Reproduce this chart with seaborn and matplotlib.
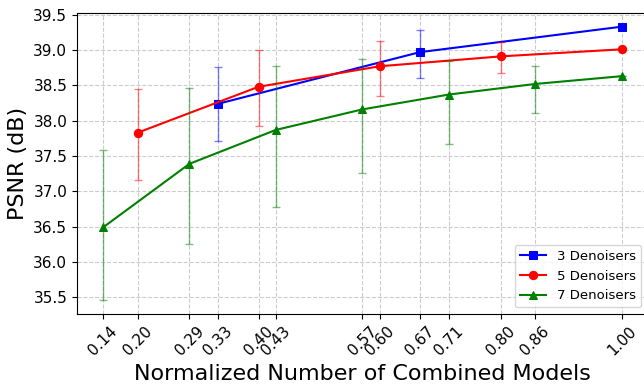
import matplotlib
matplotlib.use("Agg")
import numpy as np
import pandas as pd
import matplotlib.pyplot as plt
import seaborn as sns

# values (error bars are not symmetric)
x3 = [1 / 3, 2 / 3, 1.0]
psnr3 = [38.24, 38.97, 39.33]
lo3 = [0.53, 0.36, 0.0]
hi3 = [0.52, 0.32, 0.0]

x5 = [0.2, 0.4, 0.6, 0.8, 1.0]
psnr5 = [37.83, 38.48, 38.77, 38.91, 39.01]
lo5 = [0.67, 0.55, 0.42, 0.24, 0.0]
hi5 = [0.62, 0.52, 0.36, 0.20, 0.0]

x7 = [1 / 7, 2 / 7, 3 / 7, 4 / 7, 5 / 7, 6 / 7, 1.0]
psnr7 = [36.49, 37.39, 37.87, 38.16, 38.37, 38.52, 38.63]
lo7 = [1.03, 1.14, 1.09, 0.90, 0.70, 0.41, 0.0]
hi7 = [1.10, 1.07, 0.91, 0.71, 0.48, 0.26, 0.0]

series = [
    ("3 Denoisers", x3, psnr3, lo3, hi3, "blue", "s"),
    ("5 Denoisers", x5, psnr5, lo5, hi5, "red", "o"),
    ("7 Denoisers", x7, psnr7, lo7, hi7, "green", "^"),
]

fig = plt.figure(figsize=(6.44, 3.84), dpi=100)
ax = fig.add_axes([77 / 644, 70 / 384, 570.6 / 644, 301 / 384])

for name, xs, ys, lo, hi, color, marker in series:
    df = pd.DataFrame({"x": xs, "psnr": ys})
    ax.errorbar(xs, ys, yerr=[lo, hi], fmt="none", ecolor=color,
                elinewidth=1, capsize=3, alpha=0.5)
    sns.lineplot(data=df, x="x", y="psnr", ax=ax, color=color, marker=marker,
                 markersize=6, markeredgecolor=color, linewidth=1.5,
                 label=name)

all_x = sorted(set(np.round(x3 + x5 + x7, 6)))
ax.set_xticks(all_x)
ax.set_xticklabels([f"{v:.2f}" for v in all_x], rotation=45, fontsize=11)
ax.tick_params(axis="y", labelsize=11)

ax.set_xlabel("Normalized Number of Combined Models", fontsize=16)
ax.set_ylabel("PSNR (dB)", fontsize=16)
ax.grid(True, linestyle="--", color="gray", alpha=0.4, linewidth=0.8)
ax.legend(loc="lower right", fontsize=9.5)

fig.savefig("out.png", dpi=100)
